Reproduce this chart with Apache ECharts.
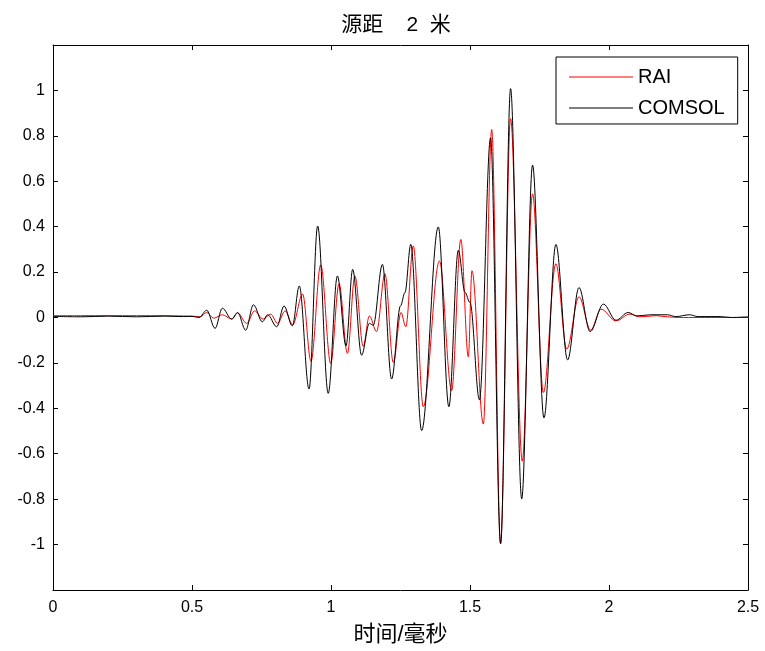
<!DOCTYPE html>
<html>
<head>
<meta charset="utf-8">
<script src="https://cdn.jsdelivr.net/npm/echarts@6/dist/echarts.min.js"></script>
<style>
    body { margin: 0; background: #fff; }
    #main { width: 765px; height: 651px; }
</style>
</head>
<body>
<div id="main"></div>
<script>

var seriesNames = ['RAI', 'COMSOL'];

// RAI trace (time in ms, amplitude)
var raiTime = [0, 0.1, 0.2, 0.3, 0.4, 0.5, 0.53, 0.553, 0.578, 0.609, 0.643, 0.664, 0.697, 0.725, 0.756, 0.783,
    0.808, 0.835, 0.862, 0.898, 0.928, 0.963, 0.999, 1.029, 1.059, 1.086, 1.116, 1.138, 1.164, 1.194, 1.224,
    1.252, 1.269, 1.296, 1.332, 1.39, 1.434, 1.467, 1.494, 1.507, 1.548, 1.578, 1.61, 1.646, 1.688, 1.725,
    1.764, 1.809, 1.848, 1.892, 1.934, 1.971, 2.025, 2.075, 2.11, 2.17, 2.21, 2.25, 2.5];
var raiValue = [0.008, 0.008, 0.008, 0.008, 0.008, 0.006, 0.003, 0.022, -0.003, 0.012, -0.007, 0.02, -0.026, 0.029, -0.007, 0.015,
    -0.026, 0.029, -0.032, 0.103, -0.193, 0.232, -0.202, 0.149, -0.158, 0.183, -0.128, 0.007, -0.062, 0.193, -0.198,
    0.022, -0.041, 0.315, -0.393, 0.249, -0.322, 0.344, -0.173, 0.206, -0.469, 0.828, -0.996, 0.876, -0.633, 0.545,
    -0.33, 0.237, -0.139, 0.091, -0.056, 0.037, -0.015, 0.015, 0.003, 0.008, 0.003, 0.0, 0.0];

// COMSOL trace
var comsolTime = [0, 0.1, 0.2, 0.3, 0.4, 0.47, 0.5, 0.525, 0.553, 0.583, 0.609, 0.643, 0.664, 0.693, 0.721, 0.753,
    0.772, 0.805, 0.831, 0.861, 0.886, 0.921, 0.952, 0.99, 1.023, 1.054, 1.078, 1.11, 1.138, 1.152, 1.185,
    1.218, 1.25, 1.266, 1.287, 1.326, 1.386, 1.424, 1.458, 1.482, 1.5, 1.534, 1.574, 1.61, 1.646, 1.686,
    1.725, 1.766, 1.809, 1.851, 1.892, 1.932, 1.98, 2.025, 2.069, 2.1, 2.15, 2.21, 2.24, 2.29, 2.32, 2.4, 2.44, 2.5];
var comsolValue = [0.005, 0.003, 0.006, 0.003, 0.006, 0.004, 0.005, 0.0, 0.032, -0.048, 0.041, -0.007, 0.022, -0.056, 0.056, -0.019,
    0.012, -0.041, 0.051, -0.037, 0.139, -0.315, 0.403, -0.334, 0.183, -0.125, 0.212, -0.166, -0.026, -0.034, 0.234,
    -0.271, 0.051, 0.11, 0.322, -0.498, 0.399, -0.393, 0.296, 0.11, 0.066, -0.363, 0.791, -0.996, 1.008, -0.799,
    0.671, -0.442, 0.322, -0.187, 0.132, -0.062, 0.059, -0.012, 0.022, 0.007, 0.012, 0.012, 0.004, 0.012, 0.004, 0.004, 0.0, 0.003];

function zip(t, v) {
    var out = [];
    for (var i = 0; i < t.length; i++) {
        out.push([t[i], v[i]]);
    }
    return out;
}

var fontName = 'Liberation Sans, Arial, Noto Sans CJK SC, sans-serif';

var myChart = echarts.init(document.getElementById('main'));

var axisCommon = {
    axisLine: { onZero: false, lineStyle: { color: '#000', width: 1 } },
    axisTick: { inside: true, length: 5, lineStyle: { color: '#000' } },
    splitLine: { show: false }
};

var option = {
    backgroundColor: '#fff',
    animation: false,
    title: {
        text: '源距    2  米',
        left: 391,
        textAlign: 'center',
        top: 10,
        textStyle: { fontFamily: fontName, fontSize: 21, fontWeight: 'normal', color: '#000' }
    },
    legend: {
        data: seriesNames,
        orient: 'vertical',
        left: 556,
        top: 57,
        icon: 'rect',
        itemWidth: 64,
        itemHeight: 1,
        itemGap: 11,
        padding: [10, 13, 6, 13],
        borderColor: '#000',
        borderWidth: 1,
        backgroundColor: '#fff',
        textStyle: { fontFamily: fontName, fontSize: 20, color: '#000' }
    },
    grid: { left: 53, right: 17, top: 45, bottom: 57 },
    xAxis: [
        Object.assign({}, axisCommon, {
            type: 'value',
            min: 0, max: 2.5, interval: 0.5,
            position: 'bottom',
            name: '时间/毫秒',
            nameLocation: 'middle',
            nameGap: 34,
            nameTextStyle: { fontFamily: fontName, fontSize: 22, color: '#000' },
            axisLabel: { margin: 10, fontFamily: fontName, fontSize: 16, color: '#000' }
        }),
        Object.assign({}, axisCommon, {
            type: 'value',
            min: 0, max: 2.5, interval: 0.5,
            position: 'top',
            axisLabel: { show: false }
        })
    ],
    yAxis: [
        Object.assign({}, axisCommon, {
            type: 'value',
            min: -1.2, max: 1.2, interval: 0.2,
            position: 'left',
            axisLabel: {
                margin: 8, fontFamily: fontName, fontSize: 16, color: '#000',
                formatter: function (v) {
                    if (Math.abs(v) > 1.05) return '';
                    return String(Math.round(v * 10) / 10);
                }
            }
        }),
        Object.assign({}, axisCommon, {
            type: 'value',
            min: -1.2, max: 1.2, interval: 0.2,
            position: 'right',
            axisLabel: { show: false }
        })
    ],
    series: [
        {
            name: seriesNames[0],
            type: 'line',
            data: zip(raiTime, raiValue),
            smooth: 0.35,
            smoothMonotone: 'x',
            showSymbol: false,
            itemStyle: { color: '#ff0000' },
            lineStyle: { color: '#ff0000', width: 1 }
        },
        {
            name: seriesNames[1],
            type: 'line',
            data: zip(comsolTime, comsolValue),
            smooth: 0.35,
            smoothMonotone: 'x',
            showSymbol: false,
            itemStyle: { color: '#000' },
            lineStyle: { color: '#000', width: 1 }
        }
    ]
};

myChart.setOption(option);

</script>
</body>
</html>
